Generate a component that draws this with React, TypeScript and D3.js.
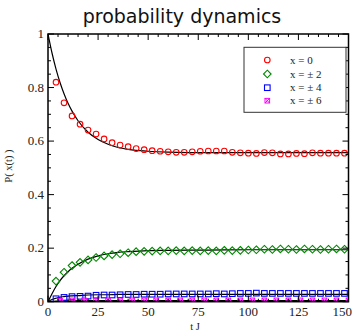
import React from "react";
import * as d3 from "d3";

const tMarks4 = [4,8,12,16,20,24,28,32,36,40,44,48,52,56,60,64,68,72,76,80,84,88,92,96,100,104,108,112,116,120,124,128,132,136,140,144,148];
const tMarks6 = [6,12,18,24,30,36,42,48,54,60,66,72,78,84,90,96,102,108,114,120,126,132,138,144,150];

const redVals = [0.820,0.743,0.694,0.663,0.641,0.626,0.608,0.594,0.585,0.579,0.572,0.568,0.564,0.562,0.560,0.558,0.558,0.560,0.562,0.563,0.563,0.563,0.558,0.556,0.555,0.554,0.557,0.556,0.552,0.552,0.554,0.553,0.556,0.555,0.555,0.555,0.555];
const greenVals = [0.077,0.110,0.135,0.147,0.156,0.165,0.171,0.176,0.179,0.183,0.187,0.188,0.189,0.190,0.190,0.191,0.190,0.191,0.190,0.191,0.190,0.192,0.191,0.192,0.193,0.194,0.196,0.195,0.197,0.196,0.195,0.197,0.196,0.195,0.196,0.197,0.196];
const blueVals = [0.011,0.016,0.019,0.020,0.021,0.024,0.025,0.025,0.026,0.027,0.027,0.028,0.028,0.028,0.029,0.029,0.029,0.029,0.029,0.029,0.030,0.029,0.030,0.031,0.031,0.032,0.031,0.031,0.031,0.031,0.031,0.031,0.031,0.031,0.031,0.031,0.031];
const magentaVals = [0.004,0.005,0.005,0.005,0.005,0.005,0.005,0.005,0.005,0.005,0.005,0.005,0.005,0.005,0.005,0.005,0.005,0.005,0.005,0.005,0.005,0.005,0.005,0.005,0.005];

const fitT = [0,2,4,6,8,10,12,15,20,25,30,35,40,50,60,80,100,125,150];
const fitRed = [1.0,0.929,0.869,0.819,0.777,0.741,0.712,0.676,0.633,0.606,0.588,0.576,0.569,0.562,0.559,0.557,0.557,0.557,0.557];
const fitGreen = [0.0,0.030,0.057,0.079,0.097,0.112,0.125,0.140,0.159,0.171,0.179,0.184,0.187,0.191,0.192,0.193,0.194,0.194,0.194];
const fitBlue = [0.0,0.008,0.013,0.017,0.019,0.021,0.022,0.023,0.025,0.026,0.026,0.027,0.027,0.027,0.027,0.027,0.027,0.027,0.027];
const fitMagenta = [0.0,0.001,0.002,0.003,0.003,0.003,0.003,0.004,0.004,0.004,0.004,0.004,0.004,0.004,0.004,0.004,0.004,0.004,0.004];

const xTicks = [0,25,50,75,100,125,150];
const yTicks = [0,0.2,0.4,0.6,0.8,1];
const yTickLabels = ["0","0.2","0.4","0.6","0.8","1"];
const legendLabels = ["x = 0","x = \u00b1 2","x = \u00b1 4","x = \u00b1 6"];

const W = 354, H = 334;
const L = 48, R = 348.5, T = 34, B = 301.7;

export default function App() {
  const x = d3.scaleLinear().domain([0,150]).range([L,R]);
  const y = d3.scaleLinear().domain([0,1]).range([B,T]);
  const line = d3.line<number>().x((_, i) => x(fitT[i])).y(d => y(d)).curve(d3.curveMonotoneX);
  const serif = "Liberation Serif, Times New Roman, serif";
  const xMinor = d3.range(0,151,5);
  const yMinor = d3.range(0,1.0001,0.05);

  const circle = (cx: number, cy: number, k: string) => <circle key={k} cx={cx} cy={cy} r={2.8} fill="none" stroke="#f00" strokeWidth={1.1}/>;
  const diamond = (cx: number, cy: number, k: string) => <path key={k} d={`M${cx},${cy-3.8}L${cx+3.8},${cy}L${cx},${cy+3.8}L${cx-3.8},${cy}Z`} fill="none" stroke="#080" strokeWidth={1.1}/>;
  const square = (cx: number, cy: number, k: string) => <rect key={k} x={cx-2.8} y={cy-2.8} width={5.6} height={5.6} fill="none" stroke="#00f" strokeWidth={1.1}/>;
  const xsq = (cx: number, cy: number, k: string) => <g key={k} stroke="#f0f" strokeWidth={1} fill="none"><rect x={cx-2.3} y={cy-2.3} width={4.6} height={4.6}/><path d={`M${cx-2.3},${cy-2.3}L${cx+2.3},${cy+2.3}M${cx+2.3},${cy-2.3}L${cx-2.3},${cy+2.3}`}/></g>;

  const legY = [60,74,87.7,100.7];
  const markers = [circle, diamond, square, xsq];

  return (
    <svg width={W} height={H} style={{position:"absolute", left:0, top:0, background:"#fff"}}>
      <rect width={W} height={H} fill="#fff"/>
      <text x={182} y={23} textAnchor="middle" fontFamily="DejaVu Sans, sans-serif" fontSize={19} fill="#111">probability dynamics</text>
      <defs><clipPath id="pc"><rect x={L} y={T} width={R-L} height={B-T}/></clipPath></defs>
      <g clipPath="url(#pc)">
        {[fitRed, fitGreen, fitBlue, fitMagenta].map((s, i) => <path key={i} d={line(s) || ""} fill="none" stroke="#000" strokeWidth={1.2}/>)}
        {redVals.map((v,i) => circle(x(tMarks4[i]), y(v), "r"+i))}
        {greenVals.map((v,i) => diamond(x(tMarks4[i]), y(v), "g"+i))}
        {blueVals.map((v,i) => square(x(tMarks4[i]), y(v), "b"+i))}
        {magentaVals.map((v,i) => xsq(x(tMarks6[i]), y(v), "m"+i))}
      </g>
      <g stroke="#000" strokeWidth={1}>
        {xMinor.map(t => { const len = t % 25 === 0 ? 6 : 3; return <g key={"xt"+t}><line x1={x(t)} x2={x(t)} y1={B} y2={B-len}/><line x1={x(t)} x2={x(t)} y1={T} y2={T+len}/></g>; })}
        {yMinor.map((v,i) => { const len = i % 4 === 0 ? 6 : 3; return <g key={"yt"+i}><line x1={L} x2={L+len} y1={y(v)} y2={y(v)}/><line x1={R} x2={R-len} y1={y(v)} y2={y(v)}/></g>; })}
      </g>
      <rect x={L} y={T} width={R-L} height={B-T} fill="none" stroke="#000" strokeWidth={1.5}/>
      {xTicks.map((t, i) => {
        const last = i === xTicks.length - 1;
        return <text key={"xl"+t} x={last ? 352 : x(t)} y={316} textAnchor={last ? "end" : "middle"} fontFamily={serif} fontSize={13} fill="#222">{t}</text>;
      })}
      {yTicks.map((v,i) => <text key={"yl"+i} x={44} y={y(v)+4} textAnchor="end" fontFamily={serif} fontSize={13} fill="#222">{yTickLabels[i]}</text>)}
      <text x={195} y={330} textAnchor="middle" fontFamily={serif} fontSize={10.5} fill="#222">t J</text>
      <text transform={`translate(12,166) rotate(-90)`} textAnchor="middle" fontFamily={serif} fontSize={10.5} fill="#222">P( x(t) )</text>
      <rect x={244} y={47.3} width={102} height={65} fill="#fff" stroke="#333" strokeWidth={1}/>
      {legendLabels.map((s,i) => <g key={"lg"+i}>{markers[i](267.3, legY[i], "lm"+i)}<text x={290} y={legY[i]+3.5} fontFamily={serif} fontSize={11} fill="#222">{s}</text></g>)}
    </svg>
  );
}
